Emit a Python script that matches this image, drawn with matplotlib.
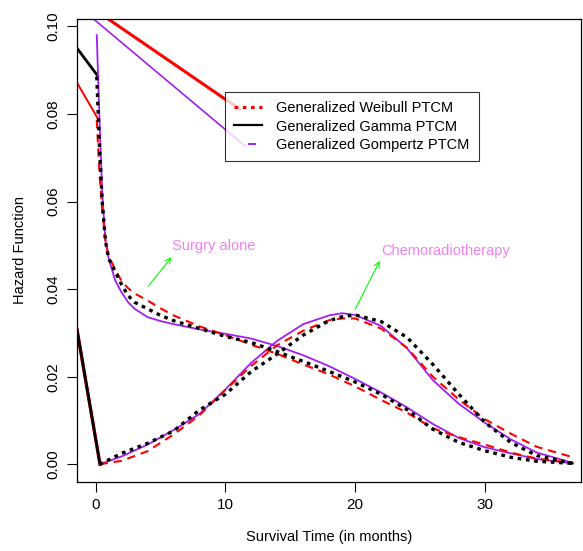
import numpy as np
import matplotlib
matplotlib.use('Agg')
import matplotlib.pyplot as plt
from matplotlib.lines import Line2D

plt.rcParams['font.family'] = ['Liberation Sans', 'DejaVu Sans']

# --- dane ---
# Surgery alone (krzywe malejace)
t_surg = [0.08, 0.3, 0.5, 0.75, 1.0, 1.5, 2, 2.5, 3, 4, 5, 6, 8, 10, 12, 14,
          16, 18, 20, 22, 24, 26, 28, 30, 32, 34, 36.8]
weib_surg = [0.0786, 0.066, 0.058, 0.0512, 0.0475, 0.0445, 0.0418, 0.0402, 0.0390,
             0.0374, 0.0356, 0.0340, 0.0315, 0.0295, 0.0273, 0.0252, 0.0228, 0.0205,
             0.0178, 0.0147, 0.0118, 0.0082, 0.0062, 0.0045, 0.0027, 0.0013, 0.0003]
gamma_surg = [0.0885, 0.072, 0.060, 0.051, 0.047, 0.0440, 0.0410, 0.0385, 0.0370,
              0.0355, 0.0340, 0.0328, 0.0310, 0.0292, 0.0278, 0.0257, 0.0235, 0.0212,
              0.0188, 0.0160, 0.0125, 0.0080, 0.0050, 0.0031, 0.0016, 0.0007, 0.0002]
gomp_surg = [0.098, 0.078, 0.062, 0.051, 0.047, 0.042, 0.0392, 0.0370, 0.0355,
             0.0336, 0.0327, 0.0320, 0.0308, 0.0298, 0.0287, 0.0270, 0.0249, 0.0224,
             0.0195, 0.0164, 0.0130, 0.0092, 0.0060, 0.0039, 0.0025, 0.0012, 0.0002]

# Chemoradiotherapy (krzywe z maksimum ~20 mies.)
t_chemo = [0.3, 2, 4, 6, 8, 10, 12, 14, 16, 18, 19, 20, 22, 24, 26, 28, 30, 32, 34, 36.8]
weib_chemo = [0.0, 0.0008, 0.0030, 0.0068, 0.0112, 0.0170, 0.0225, 0.0272, 0.0305,
              0.0329, 0.0333, 0.0333, 0.0310, 0.0266, 0.0200, 0.0148, 0.0103, 0.0070,
              0.0040, 0.0016]
gamma_chemo = [0.0, 0.0025, 0.0048, 0.0076, 0.0124, 0.0160, 0.0212, 0.0252, 0.0295,
               0.0328, 0.0337, 0.0341, 0.0326, 0.0290, 0.0228, 0.0160, 0.0096, 0.0050,
               0.0020, 0.0002]
gomp_chemo = [0.0, 0.0018, 0.0045, 0.0078, 0.0115, 0.0171, 0.0232, 0.0282, 0.0320,
              0.0340, 0.0345, 0.0341, 0.0316, 0.0265, 0.0192, 0.0138, 0.0095, 0.0057,
              0.0027, 0.0003]

# proste odcinki (artefakty z oryginalu): (t0, y0, t1, y1)
seg_red_thick = (0.95, 0.1017, 11.2, 0.0809)
seg_purple = (-0.18, 0.1017, 11.5, 0.0727)
seg_black_top = (-1.44, 0.0950, 0.15, 0.0887)
seg_red_top = (-1.44, 0.0871, 0.15, 0.0790)
seg_bottom = (-1.44, 0.0307, 0.33, 0.0)

legend_labels = ["Generalized Weibull PTCM", "Generalized Gamma PTCM",
                 "Generalized Gompertz PTCM"]

RED = "#FF0000"
PURPLE = "#A020F0"
VIOLET = "#EE82EE"
GREEN = "#00FF00"
FS = 10.5

fig = plt.figure(figsize=(5.83, 5.51), dpi=100)
ax = fig.add_axes([0.1321, 0.1258, 0.8645, 0.8397])

# artefakty
ax.plot(seg_red_thick[::2], seg_red_thick[1::2], color=RED, lw=2.2, solid_capstyle='butt')
ax.plot(seg_purple[::2], seg_purple[1::2], color=PURPLE, lw=1.2)
ax.plot(seg_black_top[::2], seg_black_top[1::2], color="black", lw=2.0)
ax.plot(seg_red_top[::2], seg_red_top[1::2], color=RED, lw=1.4)
ax.plot(seg_bottom[::2], seg_bottom[1::2], color=RED, lw=2.4)
ax.plot(seg_bottom[::2], seg_bottom[1::2], color="black", lw=2.0)

# krzywe hazardu
for tt, yy in [(t_surg, gomp_surg), (t_chemo, gomp_chemo)]:
    ax.plot(tt, yy, color=PURPLE, lw=1.3)
for tt, yy in [(t_surg, weib_surg), (t_chemo, weib_chemo)]:
    ax.plot(tt, yy, color=RED, lw=1.5, dashes=(4, 2.8))
for tt, yy in [(t_surg, gamma_surg), (t_chemo, gamma_chemo)]:
    ax.plot(tt, yy, color="black", lw=2.4, dashes=(1.1, 1.4))

# adnotacje
ax.annotate("", xy=(5.98, 0.0478), xytext=(3.93, 0.0402),
            arrowprops=dict(arrowstyle="->", color=GREEN, lw=0.8))
ax.text(5.86, 0.0498, "Surgry alone", color=VIOLET, fontsize=FS, va="center", ha="left")
ax.annotate("", xy=(22.0, 0.0470), xytext=(19.9, 0.0348),
            arrowprops=dict(arrowstyle="->", color=GREEN, lw=0.8))
ax.text(22.05, 0.0488, "Chemoradiotherapy", color=VIOLET, fontsize=FS, va="center", ha="left")

ax.set_xlim(-1.442, 37.42)
ax.set_ylim(-0.00397, 0.10167)
ax.set_xticks([0, 10, 20, 30])
ax.set_yticks([0.0, 0.02, 0.04, 0.06, 0.08, 0.10])
ax.set_yticklabels(["0.00", "0.02", "0.04", "0.06", "0.08", "0.10"], rotation=90, va="center")
ax.tick_params(labelsize=11, length=7, width=0.8, pad=5)
for s in ax.spines.values():
    s.set_linewidth(0.9)
ax.set_xlabel("Survival Time (in months)", fontsize=FS, labelpad=13)
ax.set_ylabel("Hazard Function", fontsize=FS, labelpad=14)

handles = [Line2D([], [], color=RED, lw=2.2, dashes=(1.2, 1.5)),
           Line2D([], [], color="black", lw=1.6),
           Line2D([], [], color=PURPLE, lw=1.4, linestyle=(12.3, (4.1, 15.4)))]
leg = ax.legend(handles, legend_labels, loc="upper left",
                bbox_to_anchor=(0.2929, 0.843), fontsize=FS, frameon=True,
                fancybox=False, edgecolor="black", handlelength=1.9,
                handletextpad=0.95, labelspacing=0.3, borderpad=0.65,
                borderaxespad=0)
leg.get_frame().set_linewidth(0.8)

fig.savefig("out.png", dpi=100)
